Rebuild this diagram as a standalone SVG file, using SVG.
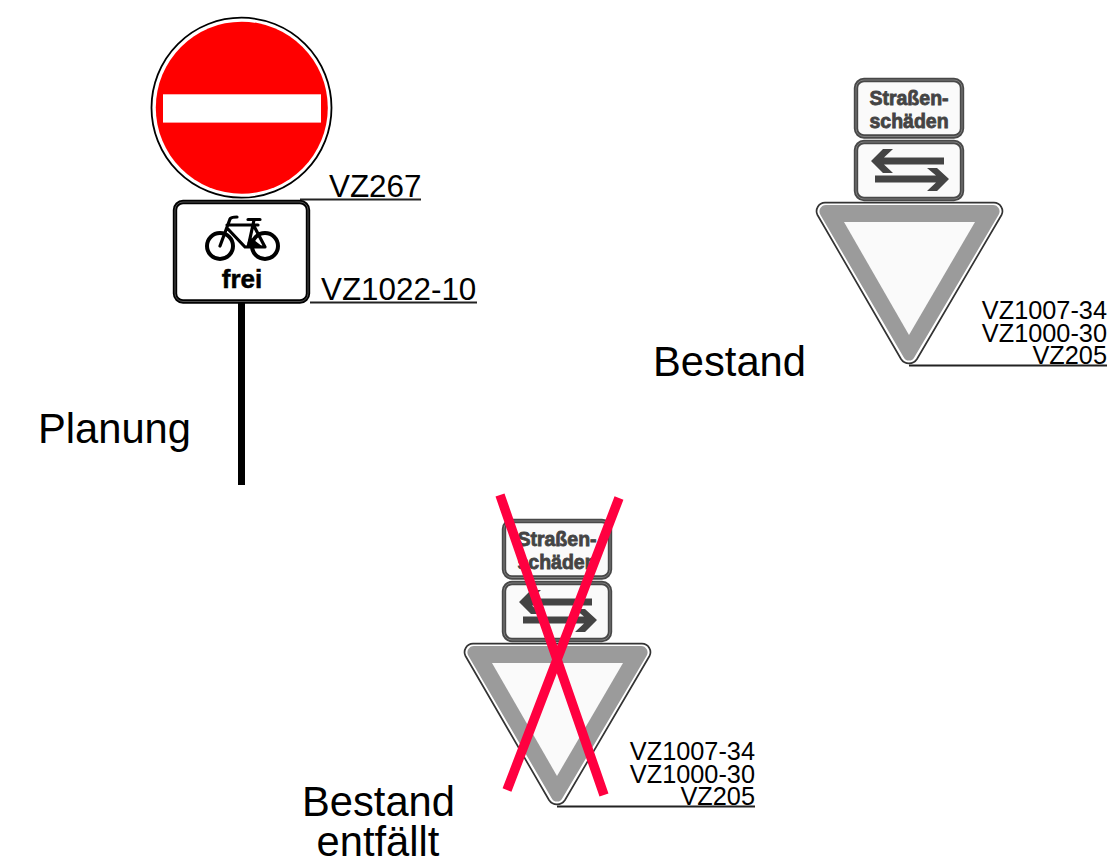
<svg xmlns="http://www.w3.org/2000/svg" width="1113" height="863" viewBox="0 0 1113 863">
<style>
text{font-family:"Liberation Sans",Arial,sans-serif;fill:#000}
.big{font-size:41.7px}
.ref{font-size:31.4px}
.small{font-size:25.3px;text-anchor:end}
.lead{stroke:#222;stroke-width:1.9;fill:none}
.plate{fill:#fafafa;stroke:#484848;stroke-width:4.4}
.plate2{fill:none;stroke:#8c8c8c;stroke-width:.8}
.plate-text{font-size:19.5px;font-weight:bold;fill:#444;stroke:#444;stroke-width:.8;text-anchor:middle}
.arrow{fill:#444}
.cross{stroke:#ff0040;stroke-width:9.500;fill:none}
.blk{stroke:#000;fill:none;stroke-linecap:round;stroke-linejoin:round}
</style>
<defs>
<g id="stack">
<rect class="plate" x="856" y="80" width="106" height="56.500" rx="8"/>
<rect class="plate2" x="856" y="80" width="106" height="56.500" rx="8"/>
<text class="plate-text" x="909" y="104.500">Straßen-</text>
<text class="plate-text" x="909" y="127.500">schäden</text>
<rect class="plate" x="856" y="142" width="106" height="57" rx="8"/>
<rect class="plate2" x="856" y="142" width="106" height="57" rx="8"/>
<path class="arrow" d="M871 161L883 149H893L884 157.500H944V164.500H884L893 173H883Z"/>
<path class="arrow" d="M949 179L937 168H927L936 175.500H875V182.500H936L927 191H937Z"/>
<path d="M825 202.700H994A8.500 8.500 0 0 1 1001.500 215L917 359A9.500 9.500 0 0 1 901 359L817.500 215A8.500 8.500 0 0 1 825 202.700Z" fill="#fff" stroke="#333" stroke-width="1.700"/>
<path d="M826 205H993A6.500 6.500 0 0 1 998.500 215L914.500 357A6 6 0 0 1 903.500 357L820.500 215A6.500 6.500 0 0 1 826 205Z" fill="#9b9b9b"/>
<path d="M844 222H975L909 335Z" fill="#fafafa"/>
</g>
</defs>

<g id="planung">
<path class="lead" d="M300 199.500H421"/>
<circle cx="241.500" cy="107.700" r="90" fill="#fff" stroke="#000" stroke-width="1.800"/>
<circle cx="241.800" cy="107.700" r="86" fill="#f00"/>
<rect x="163" y="94.300" width="158" height="28.300" fill="#fff"/>
<text class="ref" x="329" y="197">VZ267</text>
<path d="M241.500 303V485" stroke="#000" stroke-width="7" fill="none"/>
<rect x="175" y="202" width="133" height="99.500" rx="8" fill="#fff" stroke="#000" stroke-width="4.400"/>
<rect x="175" y="202" width="133" height="99.500" rx="8" fill="none" stroke="#666" stroke-width=".8"/>
<g class="blk">
<circle cx="220" cy="246" r="13" stroke-width="4"/>
<circle cx="265" cy="246" r="13" stroke-width="4"/>
<path d="M220 246L230 219Q231 217 237 217M227 225H258M254 220L249 243M227 228L245 247H265L255 228M248 219.500H260" stroke-width="3.200"/>
<path d="M250 238L262 247H247Z" fill="#000" stroke-width="1.500"/>
</g>
<text x="242" y="288" font-size="26" font-weight="bold" text-anchor="middle" stroke="#000" stroke-width=".5">frei</text>
<path class="lead" d="M310 302.500H477"/>
<text class="ref" x="321" y="300">VZ1022-10</text>
<text class="big" x="38" y="443">Planung</text>
</g>

<g id="bestand">
<use href="#stack"/>
<path class="lead" d="M909 365.500H1107"/>
<text class="small" x="1107" y="319">VZ1007-34</text>
<text class="small" x="1107" y="342">VZ1000-30</text>
<text class="small" x="1107" y="364">VZ205</text>
<text class="big" x="653" y="376">Bestand</text>
</g>

<g id="entfaellt">
<use href="#stack" x="-352" y="441"/>
<path class="lead" d="M557 806.500H755"/>
<text class="small" x="755" y="760">VZ1007-34</text>
<text class="small" x="755" y="783">VZ1000-30</text>
<text class="small" x="755" y="805">VZ205</text>
<text class="big" x="302" y="816">Bestand</text>
<text class="big" x="378" y="856" text-anchor="middle">entfällt</text>
</g>

<g id="connectors">
<path class="cross" d="M500 495L604 795M619 498L507 790"/>
</g>
</svg>
